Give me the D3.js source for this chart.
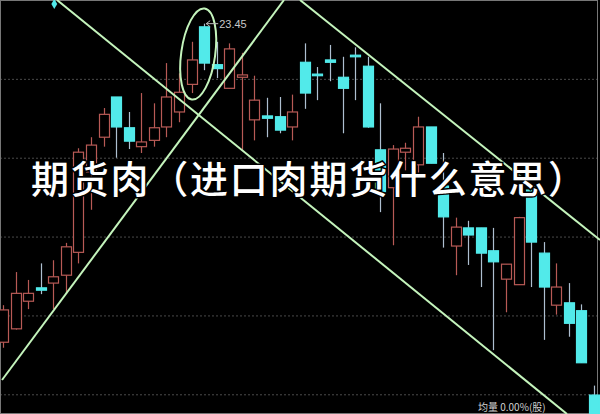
<!DOCTYPE html>
<html><head><meta charset="utf-8">
<script src="https://cdn.jsdelivr.net/npm/d3@7"></script>
<style>html,body{margin:0;padding:0;background:#000;}svg{display:block;}</style>
</head><body>
<div id="chart"></div>
<script>
// ---- data ----
const days = d3.range(1, 49).map(i => "D" + i);
const open  = [19.41,19.58,19.93,20.10,20.16,20.26,20.55,21.57,22.01,22.52,22.13,21.89,21.97,22.14,22.33,22.68,23.41,22.93,22.63,22.77,22.23,22.28,22.27,22.14,22.96,22.81,22.99,22.77,23.05,22.91,21.85,21.37,21.82,21.66,22.14,21.39,20.63,20.86,20.86,20.57,20.21,20.14,21.34,20.54,19.88,19.91,19.81,18.74];
const high  = [19.88,20.30,20.20,20.41,20.45,20.67,21.87,22.01,22.38,22.52,22.33,22.57,22.44,22.95,22.82,23.22,23.45,23.22,23.20,23.08,22.79,22.51,22.52,22.55,23.20,22.90,23.18,23.03,23.15,23.03,22.44,21.91,21.94,22.27,22.14,21.81,20.99,20.95,20.86,20.86,20.40,21.00,21.34,20.68,20.41,20.16,19.89,18.86];
const low   = [19.34,19.57,19.83,20.02,19.83,20.03,20.41,21.09,21.89,21.75,21.86,21.81,21.89,22.01,22.20,22.57,22.86,22.76,22.63,21.85,21.97,22.01,22.06,21.97,22.37,22.48,22.72,22.06,22.48,22.13,21.06,20.64,21.59,21.53,21.68,20.61,20.26,20.39,20.11,19.31,19.79,20.14,20.11,19.44,19.76,19.48,19.15,18.42];
const close = [19.82,20.03,20.03,20.07,20.24,20.62,21.82,21.91,22.30,22.14,21.96,21.95,22.13,22.52,22.58,22.99,22.95,22.88,23.13,22.80,22.48,22.25,22.10,22.33,22.57,22.79,22.96,22.63,23.03,22.14,21.32,21.86,21.87,22.14,21.68,21.00,20.87,20.77,20.54,20.43,20.40,20.99,20.68,20.11,20.11,19.65,19.15,18.42];
const gridValues = [22.75, 21.75, 20.75, 19.75, 18.75];
const peakLabel = "23.45";
const title = "期货肉（进口肉期货什么意思）";
const footText = "均量 0.00%(股)";

// ---- chart ----
const W = 600, H = 414;
const svg = d3.select("#chart").append("svg").attr("width", W).attr("height", H)
  .style("background", "#000");

const x = d3.scalePoint().domain(days).range([3, 594]);
const y = d3.scaleLinear().domain([18.5, 23.75]).range([H, 0]);

const up = "#b85a56", down = "#52eaea", downWick = "#aebfd0";
const lineCol = "#c4f4bc";

// grid lines
const grid = svg.append("g")
  .call(d3.axisRight(y).tickValues(gridValues).tickSize(W).tickFormat(""));
grid.select(".domain").remove();
grid.selectAll(".tick line").attr("stroke", "#4a4a4a").attr("stroke-dasharray", "2,2").attr("stroke-width", 1);

// frame
svg.append("rect").attr("x", 0.5).attr("y", 0.5).attr("width", W - 3).attr("height", H - 1)
  .attr("fill", "none").attr("stroke", "#777").attr("stroke-width", 1);

const data = days.map((d, i) => ({d, o: open[i], h: high[i], l: low[i], c: close[i]}));
const bw = 10;
svg.append("clipPath").attr("id", "clip").append("rect").attr("x", 0).attr("y", 0).attr("width", W).attr("height", H);
const plot = svg.append("g").attr("clip-path", "url(#clip)");

const c = plot.selectAll("g.candle").data(data).join("g").attr("class", "candle");
c.append("line")
  .attr("x1", d => Math.round(x(d.d)) + 0.5).attr("x2", d => Math.round(x(d.d)) + 0.5)
  .attr("y1", d => y(d.h)).attr("y2", d => y(d.l))
  .attr("stroke", d => d.c > d.o ? up : downWick).attr("stroke-width", 1.2);
c.append("rect")
  .attr("x", d => Math.round(x(d.d)) - bw / 2 + 0.5)
  .attr("y", d => y(Math.max(d.o, d.c)))
  .attr("width", bw)
  .attr("height", d => Math.max(1.5, Math.abs(y(d.o) - y(d.c))))
  .attr("fill", d => d.c > d.o ? "#000" : down)
  .attr("stroke", d => d.c > d.o ? up : down)
  .attr("stroke-width", 1.2);

// trend lines
const lines = [
  [[57, 0], [567, 414]],
  [[2, 380], [284, 0]],
  [[300, 0], [600, 240]]
];
svg.append("g").selectAll("line").data(lines).join("line")
  .attr("x1", d => d[0][0]).attr("y1", d => d[0][1])
  .attr("x2", d => d[1][0]).attr("y2", d => d[1][1])
  .attr("stroke", lineCol).attr("stroke-width", 2);

// ellipse around the peak
const peakIdx = high.indexOf(d3.max(high));
const ex = x(days[peakIdx]) - 6;
svg.append("ellipse")
  .attr("cx", ex).attr("cy", 54).attr("rx", 17).attr("ry", 46)
  .attr("transform", `rotate(8, ${ex}, 54)`)
  .attr("fill", "none").attr("stroke", lineCol).attr("stroke-width", 2);

// peak label
const px = x(days[peakIdx]) + 2, py = y(high[peakIdx]);
svg.append("line").attr("x1", px).attr("y1", py).attr("x2", px + 12).attr("y2", py)
  .attr("stroke", "#bbb").attr("stroke-width", 1);
svg.append("path").attr("d", `M${px},${py} l4,-3 M${px},${py} l4,3`).attr("stroke", "#bbb").attr("fill", "none");
svg.append("text").attr("x", px + 13).attr("y", py + 4).text(peakLabel)
  .attr("fill", "#c8c8c8").attr("font-family", "Liberation Sans, Arial, sans-serif").attr("font-size", 11);

// diamond marker
svg.append("path").attr("d", d3.symbol(d3.symbolDiamond, 30)())
  .attr("transform", `translate(${x(days[4]) + 1},4)`).attr("fill", down);

// footer text (bottom right)
svg.append("text").attr("x", 478).attr("y", 411)
  .attr("font-family", "Noto Sans CJK SC, sans-serif").attr("font-size", 10)
  .attr("fill", "#d0d0d0").text(footText);

// title overlay
svg.append("text").attr("x", 31).attr("y", 176).attr("dominant-baseline", "central")
  .attr("textLength", 555).attr("lengthAdjust", "spacing")
  .attr("font-family", "Noto Sans CJK SC, sans-serif").attr("font-size", 38).attr("font-weight", 500)
  .attr("fill", "#fff").attr("stroke", "#000").attr("stroke-width", 3).attr("paint-order", "stroke")
  .text(title);
</script>
</body></html>
